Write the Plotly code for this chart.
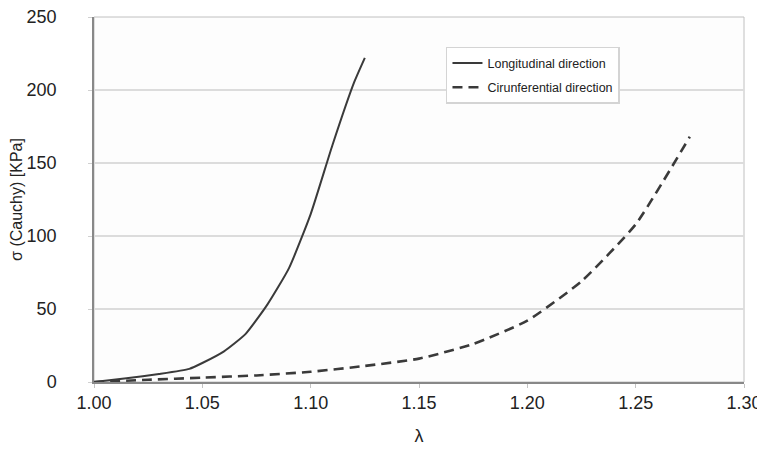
import plotly.graph_objects as go

long_x = [1.000, 1.015, 1.030, 1.044, 1.050, 1.060, 1.070, 1.080, 1.090, 1.100, 1.110, 1.120, 1.125]
long_y = [0, 2.5, 5.5, 9, 13, 21, 33, 53, 78, 115, 162, 205, 222]

circ_x = [1.000, 1.025, 1.050, 1.075, 1.100, 1.125, 1.150, 1.175, 1.200, 1.225, 1.250, 1.275]
circ_y = [0, 1.5, 3, 4.5, 7, 11, 16, 26, 42, 69, 108, 168]

x_ticks = [1.00, 1.05, 1.10, 1.15, 1.20, 1.25, 1.30]
x_tick_labels = ["1.00", "1.05", "1.10", "1.15", "1.20", "1.25", "1.30"]
y_ticks = [0, 50, 100, 150, 200, 250]

fig = go.Figure()
fig.add_trace(go.Scatter(x=long_x, y=long_y, mode="lines", name="Longitudinal direction",
                         legendgroup="a",
                         line=dict(color="#3a3a3a", width=2, shape="spline", smoothing=0.5)))
fig.add_trace(go.Scatter(x=circ_x, y=circ_y, mode="lines", name="Cirunferential direction",
                         legendgroup="b",
                         line=dict(color="#3a3a3a", width=2.6, dash="10px,6px", shape="spline", smoothing=0.5)))

fig.update_layout(
    width=757, height=439,
    margin=dict(l=86, r=21, t=9, b=65),
    paper_bgcolor="white", plot_bgcolor="#fdfdfd",
    font=dict(family="Liberation Sans, Arial, sans-serif", color="#222"),
    showlegend=True,
    legend=dict(x=0.5415, y=0.918, xanchor="left", yanchor="top",
                bgcolor="white", bordercolor="#d4d4d4", borderwidth=1.5,
                font=dict(size=12.5, color="#222"), tracegroupgap=5),
    shapes=[dict(type="rect", xref="paper", yref="paper", x0=0, x1=1, y0=0, y1=1,
                 line=dict(color="#c0c0c0", width=1), layer="below")],
)
fig.update_xaxes(range=[1.0, 1.3], tickvals=x_ticks, ticktext=x_tick_labels, automargin=False,
                 ticklabeloverflow="allow",
                 showgrid=False, zeroline=False, showline=True, linecolor="#888", linewidth=1.5,
                 ticks="outside", ticklen=4, tickcolor="#c4c4c4", tickfont=dict(size=18),
                 title=dict(text="λ", font=dict(size=18), standoff=17))
fig.update_yaxes(range=[0, 250], tickvals=y_ticks, automargin=False,
                 ticklabeloverflow="allow",
                 showgrid=True, gridcolor="#dcdcdc", gridwidth=1.5, zeroline=False,
                 showline=True, linecolor="#888", linewidth=1.5,
                 ticks="outside", ticklen=4, tickcolor="#d0d0d0", tickfont=dict(size=18),
                 ticklabelstandoff=28,
                 title=dict(text="σ (Cauchy) [KPa]", font=dict(size=16), standoff=5))

fig.write_html("out.html")
